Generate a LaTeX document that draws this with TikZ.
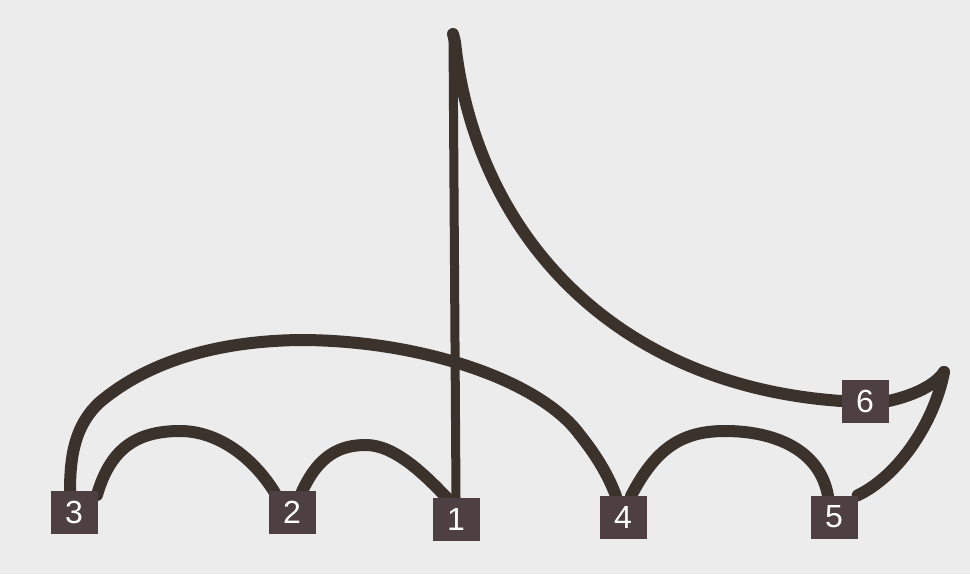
\documentclass[tikz,border=0pt]{standalone}
\usepackage{fontspec}
\setmainfont{Liberation Sans}
\usetikzlibrary{backgrounds}
\definecolor{bgc}{HTML}{ECECEC}
\definecolor{inkc}{HTML}{3B322C}
\definecolor{boxc}{HTML}{4D3F42}
\tikzset{
  box/.style={draw=none,fill=boxc,text=white,minimum width=47pt,minimum height=43pt,inner sep=0pt,font=\fontsize{32}{32}\selectfont},
  wire/.style={draw=inkc,line width=12pt,line cap=round,line join=round}
}
\begin{document}
\begin{tikzpicture}[x=1pt,y=-1pt]
\useasboundingbox (0,0) rectangle (970,574);
\node[box] (n3) at (74,512) {3};
\node[box] (n2) at (292,512) {2};
\node[box] (n1) at (456,519) {1};
\node[box] (n4) at (623,517) {4};
\node[box] (n5) at (834,517) {5};
\node[box] (n6) at (865,401) {6};
\coordinate (top) at (453,34);
\coordinate (tip) at (944,372);
\coordinate (a3) at (97,495);
\coordinate (b3) at (70,492);
\coordinate (a2) at (275,493);
\coordinate (b2) at (301,494);
\coordinate (a1) at (447,498);
\coordinate (a4) at (616,496);
\coordinate (b4) at (631,496);
\coordinate (a5) at (828,496);
\begin{scope}[on background layer]
\fill[bgc] (0,0) rectangle (970,574);
\draw[wire] (a3) .. controls (110,450) and (135,431) .. (180,431) .. controls (220,431) and (255,460) .. (a2);
\draw[wire] (b2) .. controls (318,455) and (340,445) .. (366,445) .. controls (395,445) and (425,475) .. (a1);
\draw[wire,line width=9pt] (n1.north) -- (top);
\draw[wire] (top) -- (455,42) .. controls (475,230) and (610,385) .. (n6.west);
\draw[wire] (n6.east) .. controls (915,395) and (935,385) .. (tip);
\draw[wire] (tip) .. controls (935,420) and (900,475) .. (n5.north east);
\draw[wire] (b3) .. controls (70,455) and (75,425) .. (100,402) .. controls (150,360) and (220,341) .. (300,340) .. controls (420,340) and (540,380) .. (580,435) .. controls (600,460) and (610,480) .. (a4);
\draw[wire] (b4) .. controls (655,450) and (680,431) .. (725,431) .. controls (775,431) and (820,450) .. (a5);
\end{scope}
\end{tikzpicture}
\end{document}
